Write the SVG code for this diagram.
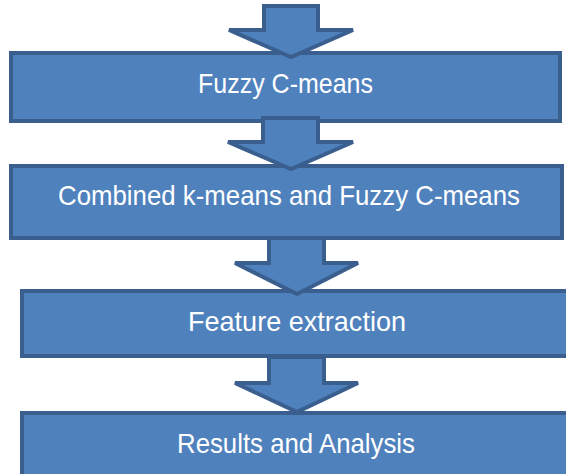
<svg xmlns="http://www.w3.org/2000/svg" width="566" height="474" viewBox="0 0 566 474">
<style>
.box{fill:#4F81BD;stroke:#3A5F8F;stroke-width:4}
.arr{fill:#4F81BD;stroke:#3A5F8F;stroke-width:4;stroke-linejoin:miter}
.lbl{fill:#FFFFFF;font-family:"Liberation Sans",Arial,sans-serif;font-size:28px;text-anchor:middle}
</style>
<rect width="566" height="474" fill="#FFFFFF"/>
<g id="node-fuzzy">
<rect class="box" x="11" y="53" width="549" height="68"/>
<text class="lbl" x="285.5" y="93" textLength="175" lengthAdjust="spacingAndGlyphs">Fuzzy C-means</text>
</g>
<g id="node-combined">
<rect class="box" x="11" y="166" width="551" height="72"/>
<text class="lbl" x="289" y="205" textLength="462" lengthAdjust="spacingAndGlyphs">Combined k-means and Fuzzy C-means</text>
</g>
<g id="node-feature">
<rect class="box" x="22" y="291" width="560" height="65"/>
<text class="lbl" x="297" y="331" textLength="218" lengthAdjust="spacingAndGlyphs">Feature extraction</text>
</g>
<g id="node-results">
<rect class="box" x="22" y="413" width="560" height="80"/>
<text class="lbl" x="296" y="453" textLength="238" lengthAdjust="spacingAndGlyphs">Results and Analysis</text>
</g>
<g id="connectors">
<polygon class="arr" points="264,6 318,6 318,30 353,30 291,57 229,30 264,30"/>
<polygon class="arr" points="263,118 318,118 318,142 353,142 291,169 228,142 263,142"/>
<polygon class="arr" points="269,238 324,238 324,263 358,263 297,294 235,263 269,263"/>
<polygon class="arr" points="269,357 324,357 324,383 358,383 297,412 235,383 269,383"/>
</g>
</svg>
